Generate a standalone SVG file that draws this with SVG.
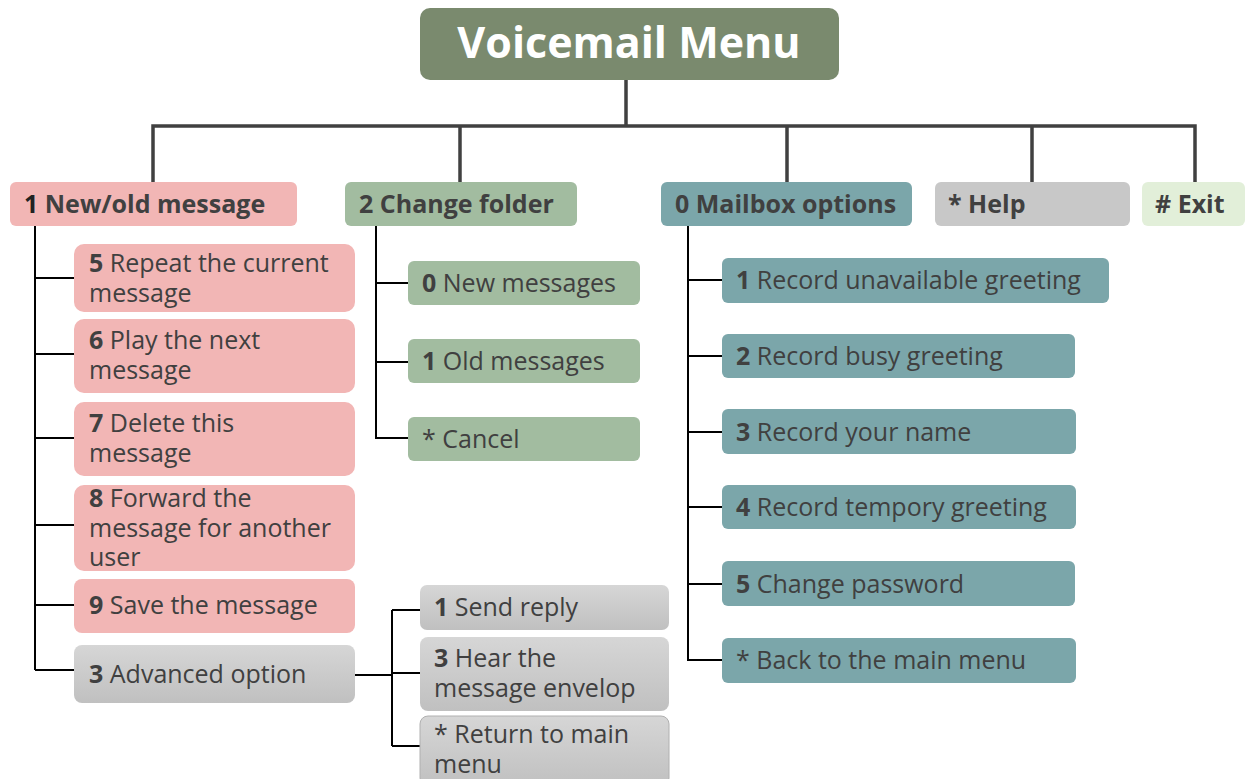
<svg xmlns="http://www.w3.org/2000/svg" width="1245" height="779" viewBox="0 0 1245 779">
<defs>
<linearGradient id="gray" x1="0" y1="0" x2="0" y2="1">
<stop offset="0" stop-color="#d6d6d6"/>
<stop offset="1" stop-color="#c0c0c0"/>
</linearGradient>
<style>
text{font-family:"Open Sans","Noto Sans","Liberation Sans",sans-serif;fill:#404040;font-size:25px}
.b{font-weight:bold}
.t{font-weight:bold;fill:#ffffff;font-size:43px}
.l1{font-weight:bold;font-size:25px}
.pink{fill:#f2b6b5}
.green{fill:#a2bca0}
.teal{fill:#7ba6aa}
.grey{fill:#c8c8c8}
.lgreen{fill:#e2efd9}
.grad{fill:url(#gray)}
.main{fill:none;stroke:#404040;stroke-width:3.5}
.sub{fill:none;stroke:#000000;stroke-width:2}
</style>
</defs>
<rect width="1245" height="779" fill="#ffffff"/>
<g id="connectors">
<path class="main" d="M626 80V126M153 182V126H1195V182M460 126V182M787 126V182M1032 126V182"/>
<path class="sub" d="M35 226V670M35 278H74M35 354H74M35 438H74M35 525H74M35 605H74M35 670H74"/>
<path class="sub" d="M355 675H393M392 610V746M392 610H420M392 673H420M392 746H420"/>
<path class="sub" d="M376 226V438H408M376 283H408M376 362H408"/>
<path class="sub" d="M688 226V660H722M688 280H722M688 356H722M688 432H722M688 507H722M688 584H722"/>
</g>
<g id="root"><rect x="420" y="8" width="419" height="72" rx="10" fill="#7a8a6e"/><text class="t" x="629" y="58" text-anchor="middle">Voicemail Menu</text></g>
<g id="n1"><rect class="pink" x="10" y="182" width="287" height="44" rx="6"/><text class="l1" x="24" y="213"><tspan fill="#222">1</tspan> New/old message</text></g>
<g id="n2"><rect class="green" x="345" y="182" width="232" height="44" rx="6"/><text class="l1" x="359" y="213">2 Change folder</text></g>
<g id="n0"><rect class="teal" x="661" y="182" width="251" height="44" rx="6"/><text class="l1" x="675" y="213">0 Mailbox options</text></g>
<g id="nhelp"><rect class="grey" x="935" y="182" width="195" height="44" rx="6"/><text class="l1" x="948" y="213">* Help</text></g>
<g id="nexit"><rect class="lgreen" x="1142" y="182" width="103" height="44" rx="6"/><text class="l1" x="1155" y="213"># Exit</text></g>
<g id="n1_5"><rect class="pink" x="74" y="244" width="281" height="68" rx="10"/><text x="89" y="272"><tspan class="b">5</tspan> Repeat the current</text><text x="89" y="302">message</text></g>
<g id="n1_6"><rect class="pink" x="74" y="319" width="281" height="74" rx="10"/><text x="89" y="349"><tspan class="b">6</tspan> Play the next</text><text x="89" y="379">message</text></g>
<g id="n1_7"><rect class="pink" x="74" y="402" width="281" height="74" rx="10"/><text x="89" y="432"><tspan class="b">7</tspan> Delete this</text><text x="89" y="462">message</text></g>
<g id="n1_8"><rect class="pink" x="74" y="485" width="281" height="86" rx="10"/><text x="89" y="507"><tspan class="b">8</tspan> Forward the</text><text x="89" y="537">message for another</text><text x="89" y="566">user</text></g>
<g id="n1_9"><rect class="pink" x="74" y="579" width="281" height="54" rx="8"/><text x="89" y="614"><tspan class="b">9</tspan> Save the message</text></g>
<g id="n1_3"><rect class="grad" x="74" y="645" width="281" height="58" rx="8"/><text x="89" y="683"><tspan class="b">3</tspan> Advanced option</text></g>
<g id="a1"><rect class="grad" x="420" y="585" width="249" height="45" rx="7"/><text x="434" y="616"><tspan class="b">1</tspan> Send reply</text></g>
<g id="a3"><rect class="grad" x="420" y="637" width="249" height="74" rx="8"/><text x="434" y="667"><tspan class="b">3</tspan> Hear the</text><text x="434" y="697">message envelop</text></g>
<g id="astar"><rect class="grad" x="420" y="716" width="249" height="70" rx="8" stroke="#b0b0b0" stroke-width="1"/><text x="434" y="743">* Return to main</text><text x="434" y="773">menu</text></g>
<g id="c0"><rect class="green" x="408" y="261" width="232" height="44" rx="6"/><text x="422" y="292"><tspan class="b">0</tspan> New messages</text></g>
<g id="c1"><rect class="green" x="408" y="339" width="232" height="44" rx="6"/><text x="422" y="370"><tspan class="b">1</tspan> Old messages</text></g>
<g id="cstar"><rect class="green" x="408" y="417" width="232" height="44" rx="6"/><text x="422" y="448">* Cancel</text></g>
<g id="m1"><rect class="teal" x="722" y="258" width="387" height="45" rx="6"/><text x="736" y="289"><tspan class="b">1</tspan> Record unavailable greeting</text></g>
<g id="m2"><rect class="teal" x="722" y="334" width="353" height="44" rx="6"/><text x="736" y="365"><tspan class="b">2</tspan> Record busy greeting</text></g>
<g id="m3"><rect class="teal" x="722" y="409" width="354" height="45" rx="6"/><text x="736" y="441"><tspan class="b">3</tspan> Record your name</text></g>
<g id="m4"><rect class="teal" x="722" y="485" width="354" height="44" rx="6"/><text x="736" y="516"><tspan class="b">4</tspan> Record tempory greeting</text></g>
<g id="m5"><rect class="teal" x="722" y="561" width="353" height="45" rx="6"/><text x="736" y="593"><tspan class="b">5</tspan> Change password</text></g>
<g id="mstar"><rect class="teal" x="722" y="638" width="354" height="45" rx="6"/><text x="736" y="669">* Back to the main menu</text></g>
</svg>
